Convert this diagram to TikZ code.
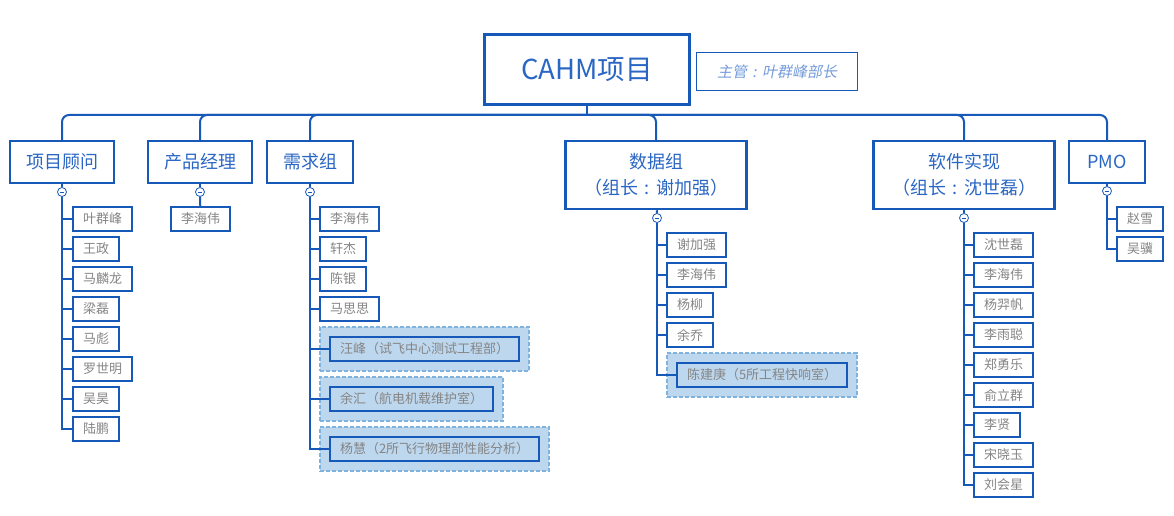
\documentclass[tikz,border=0pt]{standalone}
\usepackage{fontspec}
\setmainfont{Noto Sans CJK SC}
\newfontfamily\notefont{Noto Sans CJK SC}[FakeSlant=0.2]
\usepackage{tikz}
\usetikzlibrary{positioning,fit,backgrounds}
\definecolor{navy}{HTML}{1659B9}
\definecolor{blue}{HTML}{2A66C4}
\definecolor{grey}{HTML}{858585}
\definecolor{lightblue}{HTML}{BDD7EE}
\definecolor{dashblue}{HTML}{80B2DE}
\newcommand{\cnco}{\makebox[1em]{:}}

\begin{document}
\begin{tikzpicture}[x=1pt,y=-1pt,
  r/.style={draw=navy,line width=3pt,fill=white,minimum width=205pt,minimum height=70pt,
            font=\fontsize{27.5}{32}\selectfont,text=blue},
  note/.style={draw=navy,line width=1pt,minimum width=161pt,minimum height=38pt,
            font=\notefont\fontsize{15}{18}\selectfont,text=blue!65},
  t/.style={draw=navy,line width=2.5pt,minimum height=42pt,inner xsep=16pt,align=center,
            font=\fontsize{18}{26}\selectfont,text=blue},
  m/.style={draw=navy,line width=2pt,minimum height=24pt,inner xsep=10pt,inner ysep=0pt,
            font=\fontsize{13}{16}\selectfont,text=grey},
  hm/.style={m,fill=lightblue},
  g/.style={draw=dashblue,dash pattern=on 4pt off 2pt,line width=1.5pt,fill=lightblue,inner sep=9pt},
  c/.style={circle,draw=navy,line width=0.8pt,fill=white,inner sep=0pt,minimum size=9pt,
            path picture={\draw[navy,line width=0.7pt]
              ([xshift=-2.2pt]path picture bounding box.center)--([xshift=2.2pt]path picture bounding box.center);}},
  ln/.style={draw=navy,line width=2pt}
]
  \path[use as bounding box] (0,0) rectangle (1174,516);

  % root and top level
  \node[r] (root) at (587,69.5) {CAHM项目};
  \node[note] (boss) at (777,71.5) {主管\cnco 叶群峰部长};
  \coordinate (bus) at (587,115);
  \node[t] (advise) at (62,162) {项目顾问};
  \node[t] (pm) at (200,162) {产品经理};
  \node[t] (req) at (310,162) {需求组};
  \node[t,minimum width=181pt,minimum height=68pt] (data) at (656,175) {数据组\\（组长\cnco 谢加强）};
  \node[t,minimum width=181pt,minimum height=68pt] (soft) at (964,175) {软件实现\\（组长\cnco 沈世磊）};
  \node[t,minimum width=76pt] (pmo) at (1107,162) {PMO};

  \node[c] (advisec) at (62,192) {};
  \node[c] (pmc) at (200,192) {};
  \node[c] (reqc) at (310,192) {};
  \node[c] (datac) at (657,218) {};
  \node[c] (softc) at (964,218) {};
  \node[c] (pmoc) at (1107,191) {};

  % members
  \node[m,anchor=west] (a1) at (72,219) {叶群峰};
  \node[m,below=4pt of a1.south west,anchor=north west] (a2) {王政};
  \node[m,below=4pt of a2.south west,anchor=north west] (a3) {马麟龙};
  \node[m,below=4pt of a3.south west,anchor=north west] (a4) {梁磊};
  \node[m,below=4pt of a4.south west,anchor=north west] (a5) {马彪};
  \node[m,below=4pt of a5.south west,anchor=north west] (a6) {罗世明};
  \node[m,below=4pt of a6.south west,anchor=north west] (a7) {吴昊};
  \node[m,below=4pt of a7.south west,anchor=north west] (a8) {陆鹏};

  \node[m] (b1) at (200.5,219) {李海伟};

  \node[m,anchor=west] (d1) at (319,219) {李海伟};
  \node[m,below=4pt of d1.south west,anchor=north west] (d2) {轩杰};
  \node[m,below=4pt of d2.south west,anchor=north west] (d3) {陈银};
  \node[m,below=4pt of d3.south west,anchor=north west] (d4) {马思思};
  \node[hm,anchor=west] (d5) at (329,349) {汪峰（试飞中心测试工程部）};
  \node[hm,below=24pt of d5.south west,anchor=north west] (d6) {余汇（航电机载维护室）};
  \node[hm,below=24pt of d6.south west,anchor=north west] (d7) {杨慧（2所飞行物理部性能分析）};

  \node[m,anchor=west] (e1) at (666,245) {谢加强};
  \node[m,below=4pt of e1.south west,anchor=north west] (e2) {李海伟};
  \node[m,below=4pt of e2.south west,anchor=north west] (e3) {杨柳};
  \node[m,below=4pt of e3.south west,anchor=north west] (e4) {余乔};
  \node[hm,anchor=west] (e5) at (676,375) {陈建庚（5所工程快响室）};

  \node[m,anchor=west] (f1) at (973,245) {沈世磊};
  \node[m,below=4pt of f1.south west,anchor=north west] (f2) {李海伟};
  \node[m,below=4pt of f2.south west,anchor=north west] (f3) {杨羿帆};
  \node[m,below=4pt of f3.south west,anchor=north west] (f4) {李雨聪};
  \node[m,below=4pt of f4.south west,anchor=north west] (f5) {郑勇乐};
  \node[m,below=4pt of f5.south west,anchor=north west] (f6) {俞立群};
  \node[m,below=4pt of f6.south west,anchor=north west] (f7) {李贤};
  \node[m,below=4pt of f7.south west,anchor=north west] (f8) {宋晓玉};
  \node[m,below=4pt of f8.south west,anchor=north west] (f9) {刘会星};

  \node[m,anchor=west] (p1) at (1116,219) {赵雪};
  \node[m,below=4pt of p1.south west,anchor=north west] (p2) {吴骥};

  % dashed outside boxes
  \begin{scope}[on background layer]
    \fill[white] (0,0) rectangle (1174,516);
    \node[g,fit=(d5)] (d5box) {};
    \node[g,fit=(d6)] (d6box) {};
    \node[g,fit=(d7)] (d7box) {};
    \node[g,fit=(e5)] (e5box) {};
  \end{scope}

  % lines
  \draw[ln] (root) -- (bus);
  \draw[ln,rounded corners=7pt] (bus) -| (advise);
  \draw[ln,rounded corners=7pt] (bus) -| (pm);
  \draw[ln,rounded corners=7pt] (bus) -| (req);
  \draw[ln,rounded corners=7pt] (bus) -| (data);
  \draw[ln,rounded corners=7pt] (bus) -| (soft);
  \draw[ln,rounded corners=7pt] (bus) -| (pmo);
  \draw[ln] (advise) -- (advisec);
  \draw[ln] (pm) -- (pmc);
  \draw[ln] (req) -- (reqc);
  \draw[ln] (data) -- (datac);
  \draw[ln] (soft) -- (softc);
  \draw[ln] (pmo) -- (pmoc);

  \draw[ln] (advisec) |- (a1);
  \draw[ln] (advisec) |- (a2);
  \draw[ln] (advisec) |- (a3);
  \draw[ln] (advisec) |- (a4);
  \draw[ln] (advisec) |- (a5);
  \draw[ln] (advisec) |- (a6);
  \draw[ln] (advisec) |- (a7);
  \draw[ln] (advisec) |- (a8);
  \draw[ln] (pmc) -- (b1);
  \draw[ln] (reqc) |- (d1);
  \draw[ln] (reqc) |- (d2);
  \draw[ln] (reqc) |- (d3);
  \draw[ln] (reqc) |- (d4);
  \draw[ln] (reqc) |- (d5);
  \draw[ln] (reqc) |- (d6);
  \draw[ln] (reqc) |- (d7);
  \draw[ln] (datac) |- (e1);
  \draw[ln] (datac) |- (e2);
  \draw[ln] (datac) |- (e3);
  \draw[ln] (datac) |- (e4);
  \draw[ln] (datac) |- (e5);
  \draw[ln] (softc) |- (f1);
  \draw[ln] (softc) |- (f2);
  \draw[ln] (softc) |- (f3);
  \draw[ln] (softc) |- (f4);
  \draw[ln] (softc) |- (f5);
  \draw[ln] (softc) |- (f6);
  \draw[ln] (softc) |- (f7);
  \draw[ln] (softc) |- (f8);
  \draw[ln] (softc) |- (f9);
  \draw[ln] (pmoc) |- (p1);
  \draw[ln] (pmoc) |- (p2);
\end{tikzpicture}
\end{document}
